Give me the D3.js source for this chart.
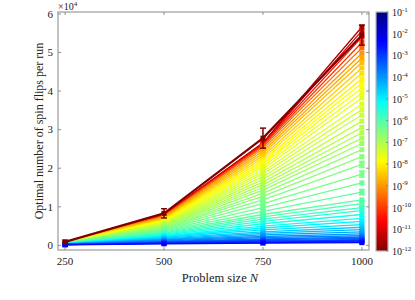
<!DOCTYPE html>
<html><head><meta charset="utf-8">
<script src="https://cdn.jsdelivr.net/npm/d3@7"></script>
<style>body{margin:0;background:#fff}svg{display:block}</style>
</head><body><svg id="c" width="415" height="300" font-family="Liberation Serif, DejaVu Serif, serif"></svg>
<script>
const sizes = [250, 500, 750, 1000];
const xTicks = [250, 500, 750, 1000];
const yTicks = [0, 1, 2, 3, 4, 5, 6];
const cbarExps = [-1,-2,-3,-4,-5,-6,-7,-8,-9,-10,-11,-12];
// colour parameter (log10) of each curve
const exps = [-12,-11.5,-11,-10.5,-10,-9.5,-9,
 -8.8,-8.6,-8.4,-8.2,-8,
 -7.9,-7.8,-7.7,-7.6,-7.5,-7.4,-7.3,-7.2,-7.1,-7,-6.9,-6.8,-6.7,-6.6,-6.5,-6.4,-6.3,-6.2,-6.1,-6,
 -5.8,-5.6,-5.4,-5.2,-5,-4.8,-4.6,-4.4,-4.2,-4,
 -3.8,-3.6,-3.4,-3.2,-3,-2.8,-2.6,-2.4];
// values in units of 10^4
const v250 = [0.09,0.092,0.09,0.088,0.086,0.084,0.082,
 0.08,0.079,0.078,0.077,0.076,
 0.075,0.074,0.073,0.072,0.071,0.07,0.069,0.068,0.067,0.066,0.065,0.064,0.063,0.062,0.061,0.06,0.058,0.056,0.054,0.052,
 0.05,0.048,0.046,0.044,0.042,0.04,0.038,0.036,0.034,0.032,
 0.03,0.028,0.026,0.024,0.022,0.02,0.018,0.015];
const v500 = [0.83,0.8,0.79,0.78,0.77,0.76,0.74,
 0.72,0.71,0.69,0.67,0.65,
 0.64,0.63,0.62,0.6,0.59,0.57,0.56,0.54,0.53,0.51,0.5,0.48,0.46,0.45,0.43,0.41,0.39,0.37,0.35,0.33,
 0.31,0.29,0.27,0.25,0.23,0.21,0.19,0.17,0.15,0.14,
 0.12,0.1,0.09,0.08,0.07,0.06,0.05,0.04];
const v750 = [2.78,2.66,2.64,2.62,2.59,2.55,2.5,
 2.44,2.38,2.32,2.26,2.2,
 2.15,2.1,2.04,1.98,1.91,1.85,1.78,1.71,1.64,1.57,1.5,1.43,1.35,1.27,1.18,1.08,0.98,0.88,0.8,0.74,
 0.68,0.62,0.56,0.5,0.45,0.4,0.35,0.31,0.27,0.23,
 0.2,0.17,0.15,0.13,0.11,0.09,0.07,0.06];
const v1000 = [5.45,5.66,5.56,5.4,5.26,5.12,4.98,
 4.86,4.74,4.6,4.46,4.32,
 4.2,4.08,3.95,3.82,3.66,3.52,3.38,3.22,3.06,2.92,2.78,2.64,2.48,2.3,2.1,1.85,1.62,1.38,1.18,1.08,
 0.98,0.9,0.8,0.7,0.62,0.54,0.47,0.41,0.35,0.3,
 0.25,0.21,0.18,0.15,0.13,0.11,0.09,0.07];
// error bars (units of 10^4) for the highlighted curve and a few others
const errIndex = [0, 26, 27, 29, 31];
const err250 = [0.02, 0.01, 0.01, 0.01, 0.01];
const err500 = [0.12, 0.03, 0.03, 0.03, 0.03];
const err750 = [0.26, 0.06, 0.06, 0.05, 0.05];
const err1000 = [0.26, 0.08, 0.08, 0.07, 0.07];

function jet(t){const c=v=>Math.max(0,Math.min(1,v));
 return d3.rgb(255*c(1.5-Math.abs(4*t-3)),255*c(1.5-Math.abs(4*t-2)),255*c(1.5-Math.abs(4*t-1))).formatHex();}
const cnorm = d3.scaleLinear().domain([-12,-1]).range([1,0]);
const colorOf = e => jet(cnorm(e));

const svg = d3.select("#c");
const x = d3.scaleLinear().domain([232,1018]).range([58,369]);
const y = d3.scaleLinear().domain([-0.12,6.05]).range([250,12]);
const axisCol = "#b5b5b5";
const txt = "#222";

const series = exps.map((e,i)=>({e, i, pts:[v250[i],v500[i],v750[i],v1000[i]].map((v,k)=>({n:sizes[k],v}))}));
// red curves first, blue last, highlighted curve on top
const order = series.slice(1).sort((a,b)=>a.e-b.e).concat([series[0]]);
const line = d3.line().x(d=>x(d.n)).y(d=>y(d.v));
const g = svg.append("g");
order.forEach(s=>{
  const col = colorOf(s.e);
  const isMain = s.i===0;
  g.append("path").attr("d",line(s.pts)).attr("fill","none").attr("stroke",col)
   .attr("stroke-width",isMain?2.2:1.3);
  const ei = errIndex.indexOf(s.i);
  if(ei>=0){
    const errs=[err250[ei],err500[ei],err750[ei],err1000[ei]];
    s.pts.forEach((p,k)=>{
      const cx=x(p.n), y1=y(p.v-errs[k]), y2=y(p.v+errs[k]);
      g.append("line").attr("x1",cx).attr("x2",cx).attr("y1",y1).attr("y2",y2).attr("stroke",col).attr("stroke-width",1.5);
      [y1,y2].forEach(yy=>g.append("line").attr("x1",cx-3).attr("x2",cx+3).attr("y1",yy).attr("y2",yy).attr("stroke",col).attr("stroke-width",1.5));
    });
  }
  g.selectAll(null).data(s.pts).enter().append("rect")
   .attr("x",d=>x(d.n)-2.5).attr("y",d=>y(d.v)-2.5).attr("width",5).attr("height",5)
   .attr("fill",col);
});

// axes box
svg.append("rect").attr("x",58).attr("y",12).attr("width",311).attr("height",238)
  .attr("fill","none").attr("stroke",axisCol).attr("stroke-width",1.6);
xTicks.forEach(t=>{
  [[250,247],[12,15]].forEach(([a,b])=>svg.append("line").attr("x1",x(t)).attr("x2",x(t)).attr("y1",a).attr("y2",b).attr("stroke","#777").attr("stroke-width",0.8));
  svg.append("text").attr("x",x(t)).attr("y",265).attr("text-anchor","middle").attr("font-size",11).attr("fill",txt).text(t);
});
yTicks.forEach(t=>{
  [[58,61],[369,366]].forEach(([a,b])=>svg.append("line").attr("x1",a).attr("x2",b).attr("y1",y(t)).attr("y2",y(t)).attr("stroke","#777").attr("stroke-width",0.8));
  svg.append("text").attr("x",53).attr("y",y(t)+3.8).attr("text-anchor","end").attr("font-size",11).attr("fill",txt).text(t);
});
const mult = svg.append("text").attr("x",58).attr("y",10).attr("font-size",10).attr("fill",txt);
mult.append("tspan").text("×10");
mult.append("tspan").attr("dy",-4).attr("font-size",7).text("4");

const xl = svg.append("text").attr("x",220).attr("y",282).attr("text-anchor","middle").attr("font-size",12.5).attr("fill",txt);
xl.append("tspan").text("Problem size ");
xl.append("tspan").attr("font-style","italic").text("N");
svg.append("text").attr("transform","translate(43,131) rotate(-90)").attr("text-anchor","middle")
  .attr("font-size",12).attr("fill",txt).text("Optimal number of spin flips per run");

// colorbar
const defs = svg.append("defs");
const grad = defs.append("linearGradient").attr("id","cb").attr("x1",0).attr("y1",1).attr("x2",0).attr("y2",0);
d3.range(0,1.0001,0.02).forEach(t=>grad.append("stop").attr("offset",t).attr("stop-color",jet(1-t)));
const cy = d3.scaleLinear().domain([-12,-1]).range([251,12]);
svg.append("rect").attr("x",376).attr("y",12).attr("width",12).attr("height",239).attr("fill","url(#cb)")
  .attr("stroke",axisCol).attr("stroke-width",1.2);
cbarExps.forEach(e=>{
  svg.append("line").attr("x1",386).attr("x2",388).attr("y1",cy(e)).attr("y2",cy(e)).attr("stroke","#666").attr("stroke-width",0.6);
  const t = svg.append("text").attr("x",392).attr("y",cy(e)+4).attr("font-size",10).attr("fill",txt);
  t.append("tspan").text("10");
  t.append("tspan").attr("dy",-4.5).attr("font-size",7).text(e);
});
</script></body></html>
